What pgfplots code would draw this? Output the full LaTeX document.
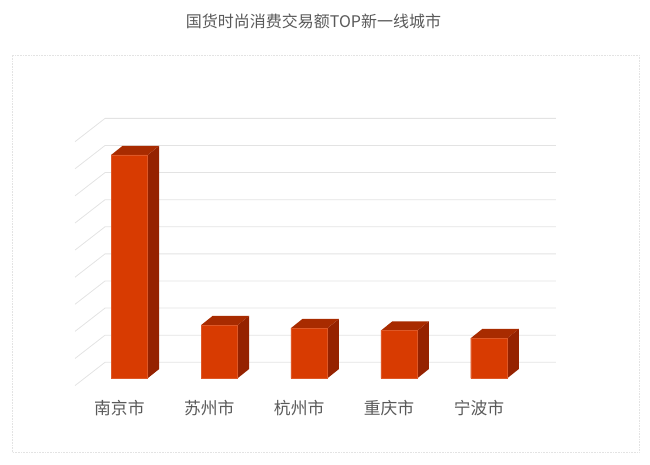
\documentclass[border=0pt]{standalone}
\usepackage{pgfplots}
\pgfplotsset{compat=1.18}
\usepackage{fontspec}
\setmainfont{Noto Sans CJK SC}
\newfontfamily\cjk{Noto Sans CJK SC}
\definecolor{frontc}{HTML}{D83B01}
\definecolor{topc}{HTML}{A82B00}
\definecolor{sidec}{HTML}{952200}
\definecolor{gridc}{HTML}{E3E3E3}
\definecolor{txtc}{HTML}{595959}
\begin{document}
\begin{tikzpicture}
\path[use as bounding box] (0,0) rectangle (650pt,464pt);
\draw[gridc, densely dotted, line width=0.6pt] (12pt,12pt) rectangle (639pt,409pt);
\node[font=\cjk\fontsize{16pt}{18pt}\selectfont, text=txtc] at (313.5pt,443pt) {国货时尚消费交易额TOP新一线城市};
\begin{axis}[
  x=89.9pt, y=27.1pt,
  xmin=-0.605, xmax=4.745, ymin=-0.3, ymax=9.7,
  at={(75pt,77.6pt)}, anchor=south west,
  clip=false,
  axis line style={draw=none},
  tick style={draw=none},
  major tick length=0pt,
  ytick=\empty,
  xtick={0,1,2,3,4},
  xticklabels={南京市,苏州市,杭州市,重庆市,宁波市},
  xticklabel style={font=\cjk\fontsize{16.8pt}{18pt}\selectfont, text=txtc, anchor=center, yshift=-22pt, xshift=-10pt},
]
% back wall and side wall gridlines
\addplot[gridc, line width=0.8pt, forget plot] coordinates {(-0.605,-0.27) (-0.271,0.59) (4.745,0.59)};
\addplot[gridc, line width=0.8pt, forget plot] coordinates {(-0.605,0.73) (-0.271,1.59) (4.745,1.59)};
\addplot[gridc, line width=0.8pt, forget plot] coordinates {(-0.605,1.73) (-0.271,2.59) (4.745,2.59)};
\addplot[gridc, line width=0.8pt, forget plot] coordinates {(-0.605,2.73) (-0.271,3.59) (4.745,3.59)};
\addplot[gridc, line width=0.8pt, forget plot] coordinates {(-0.605,3.73) (-0.271,4.59) (4.745,4.59)};
\addplot[gridc, line width=0.8pt, forget plot] coordinates {(-0.605,4.73) (-0.271,5.59) (4.745,5.59)};
\addplot[gridc, line width=0.8pt, forget plot] coordinates {(-0.605,5.73) (-0.271,6.59) (4.745,6.59)};
\addplot[gridc, line width=0.8pt, forget plot] coordinates {(-0.605,6.73) (-0.271,7.59) (4.745,7.59)};
\addplot[gridc, line width=0.8pt, forget plot] coordinates {(-0.605,7.73) (-0.271,8.59) (4.745,8.59)};
\addplot[gridc, line width=0.8pt, forget plot] coordinates {(-0.605,8.73) (-0.271,9.59) (4.745,9.59)};
% side faces
\addplot[fill=sidec, draw=none, forget plot] coordinates {(0.203,0) (0.331,0.34) (0.331,8.58) (0.203,8.24)} -- cycle;
\addplot[fill=sidec, draw=none, forget plot] coordinates {(1.203,0) (1.331,0.34) (1.331,2.30) (1.203,1.96)} -- cycle;
\addplot[fill=sidec, draw=none, forget plot] coordinates {(2.203,0) (2.331,0.34) (2.331,2.19) (2.203,1.85)} -- cycle;
\addplot[fill=sidec, draw=none, forget plot] coordinates {(3.203,0) (3.331,0.34) (3.331,2.10) (3.203,1.76)} -- cycle;
\addplot[fill=sidec, draw=none, forget plot] coordinates {(4.203,0) (4.331,0.34) (4.331,1.82) (4.203,1.48)} -- cycle;
% top faces
\addplot[fill=topc, draw=none, forget plot] coordinates {(-0.203,8.24) (0.203,8.24) (0.331,8.58) (-0.075,8.58)} -- cycle;
\addplot[fill=topc, draw=none, forget plot] coordinates {(0.797,1.96) (1.203,1.96) (1.331,2.30) (0.925,2.30)} -- cycle;
\addplot[fill=topc, draw=none, forget plot] coordinates {(1.797,1.85) (2.203,1.85) (2.331,2.19) (1.925,2.19)} -- cycle;
\addplot[fill=topc, draw=none, forget plot] coordinates {(2.797,1.76) (3.203,1.76) (3.331,2.10) (2.925,2.10)} -- cycle;
\addplot[fill=topc, draw=none, forget plot] coordinates {(3.797,1.48) (4.203,1.48) (4.331,1.82) (3.925,1.82)} -- cycle;
% front faces
\addplot[ybar, bar width=0.406, fill=frontc, draw=frontc!85!white, line width=0.4pt]
  coordinates {(0,8.24) (1,1.96) (2,1.85) (3,1.76) (4,1.48)};
\end{axis}
\end{tikzpicture}
\end{document}
